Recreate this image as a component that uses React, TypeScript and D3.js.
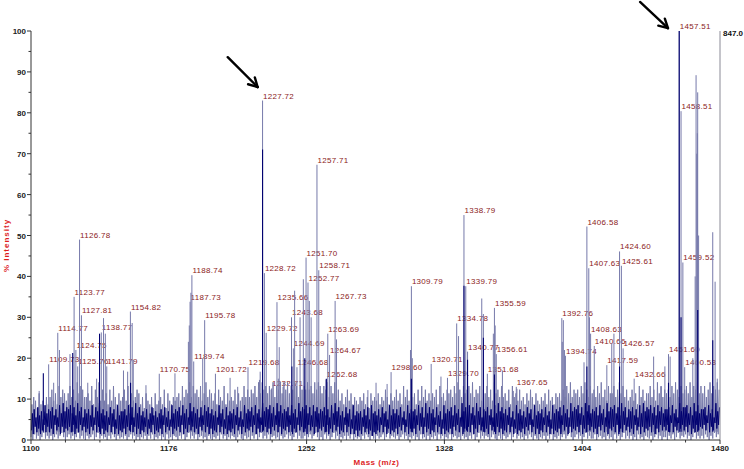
import * as d3 from "d3";
import { useEffect, useRef } from "react";

// axis setup
const massDomain = [1100, 1480];
const intensityDomain = [0, 100];
const massTicks = [1100, 1176, 1252, 1328, 1404, 1480];
const massMinorStep = 19;
const intensityTicks = [0, 10, 20, 30, 40, 50, 60, 70, 80, 90, 100];
const intensityMinorStep = 5;
const maxCounts = "847.0";

// labelled peaks: [m/z, % intensity]
const labeledPeaks: [number, number][] = [
  [1109.73, 18.5], [1114.77, 26.2], [1123.77, 35], [1124.75, 22], [1125.76, 18],
  [1126.78, 49], [1127.81, 30.5], [1138.77, 26.3], [1141.79, 18], [1154.82, 31.4],
  [1170.75, 16.2], [1187.73, 33.8], [1188.74, 40.3], [1189.74, 19.2], [1195.78, 29.3],
  [1201.72, 16.2], [1219.68, 17.8], [1227.72, 83], [1228.72, 40.8], [1229.72, 26.2],
  [1232.71, 12.6], [1235.66, 33.7], [1243.68, 30], [1244.69, 22.4], [1246.68, 17.8],
  [1251.7, 44.6], [1252.77, 38.5], [1257.71, 67.3], [1258.71, 41.5], [1262.68, 14.8],
  [1263.69, 26], [1264.67, 20.8], [1267.73, 34], [1298.6, 16.6], [1309.79, 37.6],
  [1320.71, 18.6], [1329.7, 15.2], [1334.78, 28.5], [1338.79, 55], [1339.79, 37.6],
  [1340.77, 21.6], [1351.68, 16.2], [1355.59, 32.3], [1356.61, 21], [1367.65, 13],
  [1392.76, 29.8], [1394.74, 20.6], [1406.58, 52.2], [1407.63, 42], [1408.63, 26],
  [1410.66, 23], [1417.59, 18.3], [1424.6, 46.1], [1425.61, 42.6], [1426.57, 22.4],
  [1432.66, 15], [1451.6, 21], [1457.51, 100], [1458.51, 80.4], [1459.52, 43.4],
  [1460.53, 17.8],
];

// unlabelled spikes and shoulders (light trace)
const extraPeaks: [number, number][] = [
  [1104.5, 12], [1112.5, 14], [1115.7, 22], [1121.5, 21], [1131.3, 14], [1136.2, 15],
  [1140, 29.8], [1141, 26], [1151, 17], [1153.3, 16.7], [1155.8, 28.6], [1156.4, 19.6],
  [1163.4, 13.4], [1179.4, 16.3], [1186.8, 24], [1187.3, 28], [1188.2, 36], [1194.7, 20],
  [1209.8, 15.2], [1214, 13], [1226, 14.7], [1226.4, 16.7], [1236.4, 15], [1236.9, 22.7],
  [1239, 13], [1245.4, 36.5], [1248.4, 30], [1250.2, 39.3], [1253.5, 34], [1254.5, 30],
  [1268.5, 24.6], [1285.8, 12.2], [1290.3, 14], [1296.4, 13.7], [1309.3, 22], [1310.3, 20],
  [1326.1, 15.5], [1335.8, 25.4], [1348.6, 34.6], [1349.5, 30.8], [1355, 26], [1356, 28],
  [1360, 17], [1366, 12], [1368, 12.5], [1393, 24], [1393.6, 29.3], [1394.2, 22],
  [1405, 19], [1408, 30], [1420.3, 23.6], [1421.5, 26], [1443.4, 20.4], [1447.5, 13],
  [1449.6, 18], [1452.5, 20.4], [1465, 20], [1466.3, 40], [1466.8, 89.2], [1467.2, 70],
  [1467.5, 75], [1467.7, 85], [1468.2, 50], [1476, 50.8], [1477.3, 38.7], [1478.5, 15],
];

// dark trace reaching above the baseline
const navyPeaks: [number, number][] = [
  [1106.8, 16.3], [1123, 21.3], [1137.8, 26], [1154.9, 14], [1227.72, 71], [1243.9, 18],
  [1251, 20], [1262.9, 15], [1309.79, 15], [1338.79, 37.7], [1340.77, 19.6], [1349.5, 25],
  [1355.59, 16], [1406.58, 18], [1424.6, 18], [1451.6, 14], [1457.51, 100], [1458.51, 30],
  [1467.7, 31.8], [1476, 24.4],
];

// arrows: tail and tip in [m/z, %]
const arrows: { from: [number, number]; to: [number, number] }[] = [
  { from: [1208.5, 93.6], to: [1225, 86.3] },
  { from: [1435.9, 107.1], to: [1451.3, 100.7] },
];

// baseline noise, one digit per m/z unit in groups of 10
const greyTop = [
  "3542634153", "5746385764", "6857496875", "5648375947", "4637485364", "5748364576",
  "3526435263", "4537264354", "5648576958", "6758469576", "4637548364", "5473645857",
  "5768596978", "6879587969", "7968798587", "8797869798", "6879586957", "4635746354",
  "3546352645", "4635475364", "5746385746", "5637485746", "4657385647", "6758697586",
  "7869576847", "6857496758", "5647385647", "4536475364", "3546374536", "5647586957",
  "6758697586", "7586957486", "6857968574", "5746385746", "6857496857", "6758697586",
  "7869587968", "6857968797",
];
const greyBottom = [
  "2041302513", "1302413520", "2413025131", "0312402513", "1203142031", "2130241302",
  "0213031402", "1302041203", "2031402513", "1402312031", "0213041302", "1320241031",
  "2031402513", "1402312031", "2413025131", "1302413520", "2041302513", "0213031402",
  "1203142031", "0312402513", "2130241302", "1302041203", "0213041302", "1402312031",
  "2031402513", "1320241031", "0312402513", "1203142031", "0213031402", "1302413520",
  "2413025131", "1402312031", "2041302513", "1302041203", "2130241302", "2031402513",
  "2413025131", "3142031524",
];
const navyTop = [
  "4627351846", "5736284957", "6847395726", "4638275946", "3527461835", "5638472947",
  "3526147352", "4637251846", "5738462957", "4627385746", "3528461735", "4637251846",
  "5738462957", "6847395846", "5738462957", "6847385746", "5736284957", "3527461835",
  "4526371845", "3627451836", "4637251846", "5638472947", "4627351846", "5738462957",
  "6847395726", "5736284957", "4637251846", "3527461835", "4627351846", "5738462957",
  "6847395846", "5738462957", "6847395726", "5736284957", "6847385746", "6738462957",
  "7847395846", "6738462957",
];
const navyBottom = [
  "3152413625", "2416351524", "3526142635", "2415362514", "1326251413", "2415362514",
  "1325142613", "2416253514", "3526142635", "2415362514", "1326251413", "2416351524",
  "3526142635", "2415362514", "3526142635", "2416351524", "3526142635", "1326251413",
  "0315241302", "1326251413", "2415362514", "2416351524", "1326251413", "2415362514",
  "3526142635", "2416351524", "1326251413", "2415362514", "1326251413", "2416351524",
  "3526142635", "2415362514", "3526142635", "2416351524", "3526142635", "3627253746",
  "3526142635", "4637253746",
];

const GREY = "#7679aa";
const NAVY = "#000070";
const LABEL_RED = "#8b2222";
const TITLE_RED = "#dd1f1f";
const FONT = "'Liberation Sans', Arial, sans-serif";

const digits = (groups: string[]) => groups.join("").split("").map(Number);

const App = () => {
  const svgRef = useRef<SVGSVGElement>(null);
  const width = 744;
  const height = 469;

  useEffect(() => {
    const svg = d3.select(svgRef.current).attr("width", width).attr("height", height);
    svg.selectAll("*").remove();

    const x = d3.scaleLinear().domain(massDomain).range([31, 720]);
    const y = d3.scaleLinear().domain(intensityDomain).range([440, 31]);

    // labels go underneath the trace, like the original
    svg
      .append("g")
      .selectAll("text")
      .data(labeledPeaks)
      .join("text")
      .attr("x", (d) => x(d[0]) + 0.5)
      .attr("y", (d) => y(d[1]) - 2)
      .attr("font-family", FONT)
      .attr("font-size", 8)
      .attr("letter-spacing", 0.3)
      .attr("fill", LABEL_RED)
      .text((d) => d[0].toFixed(2));

    // noise, light trace
    const gTop = digits(greyTop);
    const gBot = digits(greyBottom);
    const greyPts: [number, number][] = [];
    gTop.forEach((d, i) => {
      greyPts.push([massDomain[0] + i, (gBot[i] ?? 1) * 0.35]);
      greyPts.push([massDomain[0] + i + 0.5, 6 + d * 0.9]);
    });
    const line = d3
      .line<[number, number]>()
      .x((d) => x(d[0]))
      .y((d) => y(d[1]));
    svg
      .append("path")
      .attr("d", line(greyPts))
      .attr("fill", "none")
      .attr("stroke", GREY)
      .attr("stroke-width", 0.95);

    // spikes
    svg
      .append("g")
      .selectAll("line")
      .data([...labeledPeaks, ...extraPeaks])
      .join("line")
      .attr("x1", (d) => x(d[0]))
      .attr("x2", (d) => x(d[0]))
      .attr("y1", y(2))
      .attr("y2", (d) => y(d[1]))
      .attr("stroke", GREY)
      .attr("stroke-width", 1);

    // noise, dark trace
    const nTop = digits(navyTop);
    const nBot = digits(navyBottom);
    const navyPts: [number, number][] = [];
    nTop.forEach((d, i) => {
      navyPts.push([massDomain[0] + i + 0.25, 1 + (nBot[i] ?? 2) * 0.45]);
      navyPts.push([massDomain[0] + i + 0.75, 4.5 + d * 0.5]);
    });
    svg
      .append("path")
      .attr("d", line(navyPts))
      .attr("fill", "none")
      .attr("stroke", NAVY)
      .attr("stroke-width", 1);

    svg
      .append("g")
      .selectAll("line")
      .data(navyPeaks)
      .join("line")
      .attr("x1", (d) => x(d[0]))
      .attr("x2", (d) => x(d[0]))
      .attr("y1", y(2))
      .attr("y2", (d) => y(d[1]))
      .attr("stroke", NAVY)
      .attr("stroke-width", 1.1);

    // right edge line + max counts
    svg
      .append("line")
      .attr("x1", x(massDomain[1]))
      .attr("x2", x(massDomain[1]))
      .attr("y1", y(0))
      .attr("y2", y(100))
      .attr("stroke", "#8a8a96")
      .attr("stroke-width", 1);
    svg
      .append("text")
      .attr("x", x(massDomain[1]) + 3)
      .attr("y", y(100) + 5)
      .attr("font-family", FONT)
      .attr("font-size", 8)
      .attr("font-weight", "bold")
      .attr("fill", "#111")
      .text(maxCounts);

    // axes
    const axis = svg.append("g").attr("stroke", "#333").attr("stroke-width", 1);
    axis.append("line").attr("x1", x(massDomain[0])).attr("x2", x(massDomain[1])).attr("y1", y(0)).attr("y2", y(0));
    axis.append("line").attr("x1", x(massDomain[0])).attr("x2", x(massDomain[0])).attr("y1", y(0)).attr("y2", y(100));

    const xMinor = d3.range(massDomain[0], massDomain[1] + 0.1, massMinorStep);
    axis
      .selectAll(".xm")
      .data(xMinor)
      .join("line")
      .attr("x1", (d) => x(d))
      .attr("x2", (d) => x(d))
      .attr("y1", y(0))
      .attr("y2", (d) => y(0) + (massTicks.includes(d) ? 4 : 2.5));
    const yMinor = d3.range(0, 100.1, intensityMinorStep);
    axis
      .selectAll(".ym")
      .data(yMinor)
      .join("line")
      .attr("x1", (d) => x(massDomain[0]) - (intensityTicks.includes(d) ? 4 : 2.5))
      .attr("x2", x(massDomain[0]))
      .attr("y1", (d) => y(d))
      .attr("y2", (d) => y(d));

    svg
      .append("g")
      .selectAll("text")
      .data(massTicks)
      .join("text")
      .attr("x", (d) => x(d))
      .attr("y", y(0) + 11)
      .attr("text-anchor", "middle")
      .attr("font-family", FONT)
      .attr("font-size", 8)
      .attr("font-weight", "bold")
      .attr("fill", "#222")
      .text((d) => d);

    svg
      .append("g")
      .selectAll("text")
      .data(intensityTicks)
      .join("text")
      .attr("x", x(massDomain[0]) - 5)
      .attr("y", (d) => y(d) + 3)
      .attr("text-anchor", "end")
      .attr("font-family", FONT)
      .attr("font-size", 8)
      .attr("font-weight", "bold")
      .attr("fill", "#222")
      .text((d) => d);

    svg
      .append("text")
      .attr("transform", `translate(9, ${(y(0) + y(100)) / 2 + 10}) rotate(-90)`)
      .attr("text-anchor", "middle")
      .attr("font-family", FONT)
      .attr("font-size", 8)
      .attr("font-weight", "bold")
      .attr("letter-spacing", 1)
      .attr("fill", TITLE_RED)
      .text("% Intensity");

    svg
      .append("text")
      .attr("x", (x(massDomain[0]) + x(massDomain[1])) / 2 + 1)
      .attr("y", 465)
      .attr("text-anchor", "middle")
      .attr("font-family", FONT)
      .attr("font-size", 8)
      .attr("font-weight", "bold")
      .attr("letter-spacing", 0.5)
      .attr("fill", TITLE_RED)
      .text("Mass (m/z)");

    // arrows
    const arrowG = svg.append("g").attr("stroke", "#000").attr("stroke-width", 2.4).attr("stroke-linecap", "round");
    arrows.forEach((a) => {
      const x0 = x(a.from[0]);
      const y0 = y(a.from[1]);
      const x1 = x(a.to[0]);
      const y1 = y(a.to[1]);
      const ang = Math.atan2(y1 - y0, x1 - x0);
      arrowG.append("line").attr("x1", x0).attr("y1", y0).attr("x2", x1).attr("y2", y1);
      [-0.5, 0.5].forEach((da) => {
        arrowG
          .append("line")
          .attr("x1", x1)
          .attr("y1", y1)
          .attr("x2", x1 - 10 * Math.cos(ang + da))
          .attr("y2", y1 - 10 * Math.sin(ang + da));
      });
    });
  }, []);

  return (
    <svg
      ref={svgRef}
      style={{ position: "absolute", left: 0, top: 0, background: "#fff" }}
    ></svg>
  );
};

export default App;
